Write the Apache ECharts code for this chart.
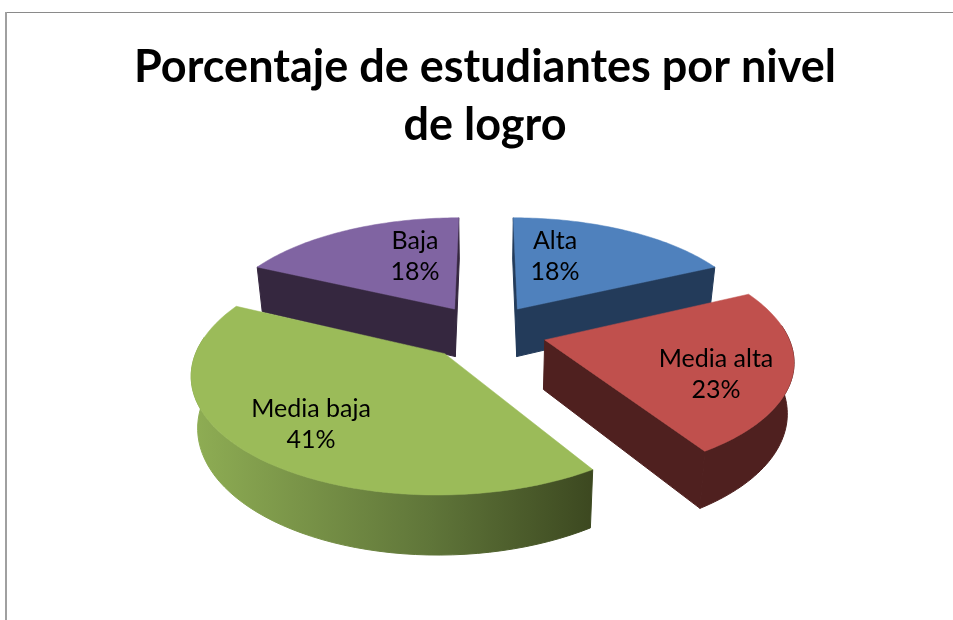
<!DOCTYPE html>
<html><head><meta charset="utf-8">
<style>html,body{margin:0;padding:0;background:#fff}#c{width:953px;height:620px}</style>
<script src="https://cdn.jsdelivr.net/npm/echarts@6/dist/echarts.min.js"></script>
</head><body><div id="c"></div>
<script>
const categories = ['Alta', 'Media alta', 'Media baja', 'Baja'];
const percentages = [18, 23, 41, 18];
const titleLines = ['Porcentaje de estudiantes por nivel', 'de logro'];

const topColors = ['#4f81bd', '#c0504d', '#9bbb59', '#8064a2'];
const sideColors = ['#233b5a', '#4f201f', '#3d4a22', '#35273f'];
const labelPos = [[555, 256], [716, 374], [311, 424], [415, 256]];

const VIEW = {cx: 486, cy: 332, rx: 242, ry: 112, k: 0.155, explode: 0.25, depth: 49, floor: 0.978};
const total = percentages.reduce((a, b) => a + b, 0);

function project(X, Z, bottom) {
  const s = 1 / (1 - VIEW.k * Z);
  let x = VIEW.rx * X * s;
  let y = VIEW.cy + VIEW.ry * Z * s;
  if (bottom) { x *= VIEW.floor; y += VIEW.depth * s; }
  return [VIEW.cx + x, y];
}
function sliceGeom(i) {
  let before = 0;
  for (let j = 0; j < i; j++) before += percentages[j];
  const a0 = before / total * 2 * Math.PI;
  const a1 = (before + percentages[i]) / total * 2 * Math.PI;
  const mid = (a0 + a1) / 2;
  const ox = VIEW.explode * Math.sin(mid), oz = -VIEW.explode * Math.cos(mid);
  const n = 60;
  const rimT = [], wallT = [], wallB = [];
  for (let t = 0; t <= n; t++) {
    const a = a0 + (a1 - a0) * t / n;
    const X = ox + Math.sin(a), Z = oz - Math.cos(a);
    rimT.push(project(X, Z, false));
    if (Math.cos(a) < 0.15) {           // only the part of the rim that faces the viewer
      wallT.push(project(X, Z, false));
      wallB.push(project(X, Z, true));
    }
  }
  const edge = (a) => {
    const X = ox + Math.sin(a), Z = oz - Math.cos(a);
    return [project(X, Z, false), project(X, Z, true)];
  };
  return {
    mid, rimT, wallT, wallB,
    apexT: project(ox, oz, false), apexB: project(ox, oz, true),
    startEdge: edge(a0), endEdge: edge(a1),
    showStart: -Math.sin(a0) > -1e-6 || Math.abs(Math.sin(a0)) < 1e-6,
    showEnd: Math.sin(a1) > 1e-6 || Math.abs(Math.sin(a1)) < 1e-6
  };
}

const chart = echarts.init(document.getElementById('c'), null, {renderer: 'canvas'});
chart.setOption({
  animation: false,
  backgroundColor: '#fff',
  title: {
    text: titleLines.join('\n'),
    left: 480, top: 33, textAlign: 'center',
    textStyle: {fontFamily: 'Lato', fontWeight: 'bold', fontSize: 45, lineHeight: 58, color: '#000'}
  },
  graphic: [
    {type: 'line', shape: {x1: 5, y1: 12.5, x2: 953, y2: 12.5}, style: {stroke: '#8a8a8a', lineWidth: 1}},
    {type: 'line', shape: {x1: 6, y1: 12, x2: 6, y2: 620}, style: {stroke: '#a0a0a0', lineWidth: 2}}
  ],
  xAxis: {show: false}, yAxis: {show: false},
  series: [{
    type: 'custom',
    coordinateSystem: 'none',
    silent: true,
    data: percentages.map((v, i) => [i, v]),
    renderItem: (params, api) => {
      const i = api.value(0);
      const g = sliceGeom(i);
      const base = Math.round(-Math.cos(g.mid) * 10) * 10 + 100;
      const wallFill = i === 2
        ? new echarts.graphic.LinearGradient(0, 0, 1, 0, [
            {offset: 0, color: '#8fae54'},
            {offset: 0.25, color: '#7b9649'},
            {offset: 0.6, color: '#5f7539'},
            {offset: 1, color: '#3c4820'}
          ])
        : sideColors[i];
      const poly = (points, fill, z2, sw) => ({type: 'polygon', shape: {points}, z2, style: {fill, stroke: fill, lineWidth: sw}});
      const children = [];
      if (g.showStart) children.push(poly([g.apexT, g.startEdge[0], g.startEdge[1], g.apexB], sideColors[i], base, 1));
      if (g.showEnd) children.push(poly([g.apexT, g.endEdge[0], g.endEdge[1], g.apexB], sideColors[i], base, 1));
      if (g.wallT.length > 1) children.push(poly(g.wallT.concat(g.wallB.slice().reverse()), wallFill, base + 1, 1));
      children.push(poly([g.apexT].concat(g.rimT), topColors[i], base + 2, 0.5));
      children.push({
        type: 'text', z2: 1000,
        x: labelPos[i][0], y: labelPos[i][1],
        style: {
          text: categories[i] + '\n' + api.value(1) + '%',
          fontFamily: 'Lato', fontSize: 25, lineHeight: 31,
          fill: '#000', align: 'center', verticalAlign: 'middle'
        }
      });
      return {type: 'group', children};
    }
  }]
});
</script></body></html>
